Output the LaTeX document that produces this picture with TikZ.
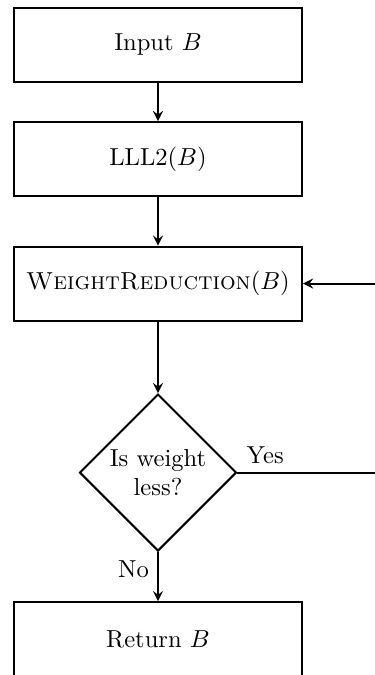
\documentclass[tikz,border=0pt]{standalone}
\usepackage{amsmath,amssymb}
\usepackage{tikz}
\usetikzlibrary{shapes.geometric}

\begin{document}
\begin{tikzpicture}[
  >=stealth,
  box/.style={draw, thick, minimum width=117.3pt, minimum height=30.1pt},
  decision/.style={draw, thick, diamond, aspect=1, minimum size=63.9pt, inner sep=0pt, align=center},
  flow/.style={->, thick}
]
  \def\xright{95pt}

  \useasboundingbox (-64.3pt,18.3pt) rectangle (88.3pt,-256.4pt);
  \clip (-64.3pt,18.3pt) rectangle (88.3pt,-256.4pt);

  \node[box] (input)  at (0, 0)        {Input $B$};
  \node[box] (lll)    at (0, -46.4pt)  {LLL2$(B)$};
  \node[box] (reduce) at (0, -97.1pt)  {\textsc{WeightReduction}$(B)$};
  \node[decision] (less) at (0, -174pt) {Is weight\\less?};
  \node[box] (return) at (0, -241.8pt) {Return $B$};

  \coordinate (corner) at (\xright, -174pt);

  \draw[flow] (input) -- (lll);
  \draw[flow] (lll) -- (reduce);
  \draw[flow] (reduce) -- (less);
  \draw[flow] (less) -- node[left, pos=0.35] {No} (return);
  \draw[flow] (less.east) -- node[above, pos=0.18] {Yes} (corner) |- (reduce.east);
\end{tikzpicture}
\end{document}
